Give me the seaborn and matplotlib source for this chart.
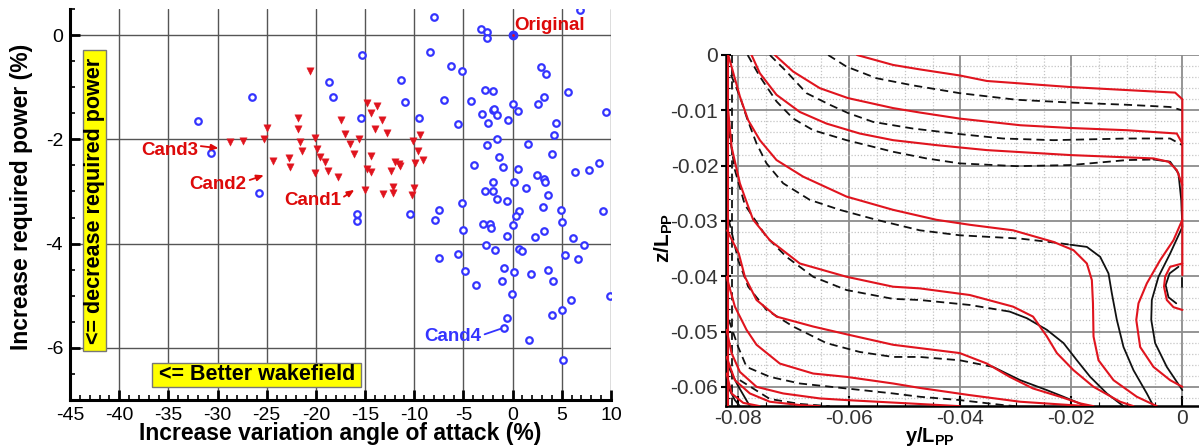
import matplotlib
matplotlib.use("Agg")
import matplotlib.pyplot as plt
from matplotlib.ticker import MultipleLocator, FuncFormatter
from matplotlib.patches import Rectangle
import pandas as pd
import seaborn as sns

# ---------------- design exploration (left panel) ----------------
# change of angle-of-attack variation (%) , change of required power (%)
explored = [
    (-31.99, -1.65), (-26.50, -1.18), (-30.67, -2.27), (-25.83, -3.03), (-15.33, -0.38),
    (-18.62, -0.90), (-18.27, -1.19), (-15.43, -1.60), (-11.33, -0.86), (-10.92, -1.29),
    (-15.83, -3.43), (-15.83, -3.56), (-10.42, -3.43), (-7.95, 0.34), (-3.23, 0.11),
    (-2.56, 0.05), (-2.56, -0.06), (6.86, 0.48), (-8.38, -0.33), (-6.28, -0.60),
    (-5.10, -0.69), (-6.93, -1.24), (-4.22, -1.26), (-2.79, -1.06), (-2.01, -1.08),
    (2.90, -0.62), (3.40, -0.75), (5.67, -1.09), (3.20, -1.19), (2.62, -1.33),
    (9.50, -1.48), (0.02, -1.32), (0.59, -1.45), (-2.01, -1.43), (-1.85, -1.42),
    (-3.13, -1.51), (-1.54, -1.54), (-0.43, -1.63), (-2.49, -1.69), (-5.54, -1.71),
    (-9.47, -1.59), (4.42, -1.69), (4.25, -1.91), (1.61, -2.08), (-2.56, -2.11),
    (-1.54, -1.99), (-1.34, -2.34), (3.98, -2.28), (-3.91, -2.50), (-0.93, -2.53),
    (0.59, -2.57), (2.46, -2.68), (3.20, -2.76), (3.30, -2.81), (6.38, -2.62),
    (7.77, -2.59), (8.79, -2.46), (-2.01, -2.81), (0.18, -2.81), (-2.79, -3.00),
    (-2.01, -3.00), (1.34, -2.94), (3.58, -3.07), (-1.61, -3.14), (-0.59, -3.18),
    (-5.16, -3.23), (-7.44, -3.35), (-7.88, -3.54), (0.69, -3.38), (0.36, -3.47),
    (3.13, -3.30), (4.90, -3.35), (9.23, -3.38), (5.00, -3.59), (-5.06, -3.73),
    (-3.03, -3.63), (-2.29, -3.62), (-2.22, -3.70), (0.08, -3.64), (3.20, -3.75),
    (-0.59, -3.86), (2.26, -3.87), (6.18, -3.89), (7.30, -4.02), (-2.69, -4.02),
    (-1.78, -4.13), (0.69, -4.11), (0.93, -4.14), (-7.44, -4.27), (-5.57, -4.19),
    (5.34, -4.22), (6.69, -4.30), (-4.83, -4.53), (-0.83, -4.46), (0.18, -4.55),
    (1.85, -4.59), (3.58, -4.51), (4.15, -4.71), (-1.04, -4.71), (-3.74, -4.79),
    (-0.08, -4.97), (9.91, -5.00), (5.95, -5.09), (4.01, -5.37), (5.00, -5.28),
    (-0.59, -5.42), (-0.89, -5.61), (1.68, -5.84), (5.10, -6.23),
]
selected = [
    (-20.58, -0.69), (-21.77, -1.59), (-21.77, -1.80), (-24.98, -1.78), (-28.71, -2.06),
    (-27.46, -2.03), (-25.32, -2.00), (-21.60, -2.05), (-21.42, -2.22), (-20.14, -1.98),
    (-19.87, -2.18), (-19.56, -2.34), (-19.09, -2.44), (-18.72, -2.60), (-17.77, -2.72),
    (-20.07, -2.65), (-22.78, -2.35), (-22.61, -2.54), (-24.37, -2.42), (-17.43, -1.62),
    (-17.09, -1.90), (-16.58, -2.08), (-16.11, -2.29), (-15.57, -1.99), (-14.82, -1.31),
    (-13.74, -1.37), (-14.41, -1.49), (-13.29, -1.62), (-13.97, -1.80), (-12.78, -1.87),
    (-14.45, -2.32), (-14.82, -2.57), (-14.38, -2.62), (-12.35, -2.60), (-11.94, -2.43),
    (-11.60, -2.48), (-11.43, -2.51), (-12.18, -2.91), (-12.18, -3.03), (-13.13, -3.05),
    (-15.02, -2.97), (-10.08, -2.03), (-9.40, -1.92), (-9.67, -2.22), (-9.13, -2.39),
    (-9.91, -2.46), (-9.98, -2.93), (-10.24, -3.06),
]
original = (0.0, 0.0)
cand_labels = ["Cand1", "Cand2", "Cand3", "Cand4"]
cand_points = [(-15.02, -2.97), (-24.37, -2.42), (-28.71, -2.06), (-0.89, -5.61)]

# ---------------- wake contours (right panel), (y/Lpp, z/Lpp) ----------------
red_1 = [(-0.0586, 0.0), (-0.0521, -0.0018), (-0.0473, -0.0026), (-0.0401, -0.0037), (-0.0352, -0.0047),
         (-0.0201, -0.0058), (-0.0052, -0.0066), (-0.0013, -0.0068), (0.0, -0.0080), (0.0, -0.0398)]
red_2 = [(-0.0734, 0.0), (-0.0701, -0.0030), (-0.0653, -0.0060), (-0.0602, -0.0078), (-0.0521, -0.0096),
         (-0.0473, -0.0104), (-0.0401, -0.0115), (-0.0292, -0.0127), (-0.0201, -0.0132), (-0.0100, -0.0136),
         (-0.0010, -0.0142), (0.0, -0.0160)]
red_3 = [(-0.0776, 0.0), (-0.0761, -0.0033), (-0.0731, -0.0072), (-0.0689, -0.0103), (-0.0641, -0.0124),
         (-0.0581, -0.0142), (-0.0521, -0.0154), (-0.0443, -0.0163), (-0.0352, -0.0172), (-0.0201, -0.0181),
         (-0.0052, -0.0187), (-0.0025, -0.0193), (-0.0010, -0.0208), (0.0, -0.0235)]
red_4 = [(-0.0818, 0.0), (-0.0812, -0.0021), (-0.0797, -0.0075), (-0.0782, -0.0118), (-0.0761, -0.0154),
         (-0.0731, -0.0190), (-0.0683, -0.0220), (-0.0605, -0.0256), (-0.0521, -0.0280), (-0.0443, -0.0298),
         (-0.0383, -0.0307), (-0.0305, -0.0317), (-0.0232, -0.0338), (-0.0196, -0.0353), (-0.0172, -0.0377),
         (-0.0163, -0.0407), (-0.0161, -0.0449), (-0.0160, -0.0509), (-0.0151, -0.0552), (-0.0124, -0.0588),
         (-0.0082, -0.0618), (-0.0046, -0.0635)]
red_5 = [(-0.0818, -0.0100), (-0.0812, -0.0166), (-0.0797, -0.0232), (-0.0782, -0.0274), (-0.0773, -0.0298),
         (-0.0743, -0.0335), (-0.0689, -0.0377), (-0.0605, -0.0401), (-0.0521, -0.0419), (-0.0473, -0.0422),
         (-0.0383, -0.0434), (-0.0305, -0.0455), (-0.0269, -0.0473), (-0.0244, -0.0509), (-0.0226, -0.0539),
         (-0.0196, -0.0570), (-0.0160, -0.0600), (-0.0112, -0.0627), (-0.0088, -0.0635)]
red_6 = [(-0.0820, -0.0317), (-0.0799, -0.0359), (-0.0788, -0.0401), (-0.0767, -0.0443), (-0.0731, -0.0473),
         (-0.0665, -0.0491), (-0.0605, -0.0505), (-0.0521, -0.0524), (-0.0473, -0.0530), (-0.0401, -0.0539),
         (-0.0352, -0.0558), (-0.0311, -0.0582), (-0.0269, -0.0603), (-0.0220, -0.0618), (-0.0184, -0.0630),
         (-0.0160, -0.0635)]
red_7 = [(-0.0821, -0.0401), (-0.0806, -0.0455), (-0.0785, -0.0497), (-0.0767, -0.0524), (-0.0725, -0.0558),
         (-0.0665, -0.0576), (-0.0605, -0.0582), (-0.0521, -0.0594), (-0.0473, -0.0602), (-0.0383, -0.0615),
         (-0.0292, -0.0627), (-0.0202, -0.0633), (-0.0166, -0.0635)]
red_8 = [(-0.0821, -0.0497), (-0.0812, -0.0539), (-0.0797, -0.0573), (-0.0767, -0.0600), (-0.0719, -0.0612),
         (-0.0653, -0.0621), (-0.0605, -0.0624), (-0.0437, -0.0633), (-0.0401, -0.0635)]
red_9 = [(-0.0821, -0.0546), (-0.0806, -0.0588), (-0.0779, -0.0612), (-0.0743, -0.0627), (-0.0689, -0.0633),
         (-0.0653, -0.0635)]
red_10 = [(-0.0821, -0.0576), (-0.0812, -0.0612), (-0.0791, -0.0629), (-0.0761, -0.0635)]
red_edge = [(-0.0819, 0.0), (-0.0819, -0.0635)]
red_lobe = [(0.0, -0.0298), (-0.0016, -0.0335), (-0.0040, -0.0371), (-0.0064, -0.0413), (-0.0079, -0.0449),
            (-0.0083, -0.0479), (-0.0076, -0.0528), (-0.0052, -0.0564), (-0.0022, -0.0588), (0.0, -0.0600)]
red_core = [(0.0, -0.0377), (-0.0022, -0.0383), (-0.0031, -0.0401), (-0.0033, -0.0419), (-0.0028, -0.0443),
            (-0.0016, -0.0456), (0.0, -0.0461)]

black_1_dash = [(-0.0638, 0.0), (-0.0605, -0.0021), (-0.0551, -0.0042), (-0.0485, -0.0055), (-0.0401, -0.0069),
                (-0.0298, -0.0081), (-0.0201, -0.0086), (-0.0100, -0.0090), (-0.0022, -0.0094), (0.0, -0.0100)]
black_2_dash = [(-0.0743, 0.0), (-0.0713, -0.0030), (-0.0677, -0.0069), (-0.0635, -0.0090), (-0.0602, -0.0105),
                (-0.0557, -0.0121), (-0.0485, -0.0133), (-0.0401, -0.0143), (-0.0323, -0.0151), (-0.0232, -0.0154),
                (-0.0100, -0.0151), (-0.0022, -0.0151), (0.0, -0.0163)]
black_3_dash = [(-0.0783, 0.0), (-0.0761, -0.0039), (-0.0749, -0.0057), (-0.0731, -0.0084), (-0.0701, -0.0115),
                (-0.0665, -0.0136), (-0.0605, -0.0154), (-0.0521, -0.0175), (-0.0461, -0.0187), (-0.0401, -0.0196),
                (-0.0298, -0.0201), (-0.0201, -0.0199), (-0.0100, -0.0190), (-0.0052, -0.0189)]
black_3_solid = [(-0.0052, -0.0189), (-0.0022, -0.0193), (-0.0007, -0.0214), (-0.0002, -0.0262), (0.0, -0.0311),
                 (-0.0022, -0.0359), (-0.0043, -0.0401), (-0.0055, -0.0443), (-0.0056, -0.0479), (-0.0049, -0.0521),
                 (-0.0028, -0.0564), (0.0, -0.0606)]
black_4_dash = [(-0.0813, -0.0036), (-0.0797, -0.0075), (-0.0784, -0.0115), (-0.0767, -0.0160), (-0.0749, -0.0196),
                (-0.0719, -0.0232), (-0.0671, -0.0262), (-0.0617, -0.0280), (-0.0551, -0.0298), (-0.0473, -0.0317),
                (-0.0401, -0.0326), (-0.0292, -0.0332), (-0.0232, -0.0339), (-0.0202, -0.0343)]
black_4_solid = [(-0.0202, -0.0343), (-0.0172, -0.0347), (-0.0148, -0.0365), (-0.0133, -0.0395), (-0.0127, -0.0431),
                 (-0.0118, -0.0479), (-0.0106, -0.0528), (-0.0088, -0.0570), (-0.0064, -0.0612), (-0.0052, -0.0635)]
black_5_dash = [(-0.0817, -0.0136), (-0.0806, -0.0208), (-0.0788, -0.0271), (-0.0749, -0.0329), (-0.0713, -0.0365),
                (-0.0665, -0.0401), (-0.0605, -0.0425), (-0.0521, -0.0441), (-0.0473, -0.0443), (-0.0383, -0.0452),
                (-0.0311, -0.0464)]
black_5_solid = [(-0.0311, -0.0464), (-0.0280, -0.0476), (-0.0244, -0.0497), (-0.0214, -0.0521), (-0.0190, -0.0552),
                 (-0.0166, -0.0582), (-0.0136, -0.0612), (-0.0106, -0.0635)]
black_6_dash = [(-0.0817, -0.0298), (-0.0800, -0.0371), (-0.0782, -0.0419), (-0.0749, -0.0461), (-0.0701, -0.0491),
                (-0.0641, -0.0521), (-0.0581, -0.0537), (-0.0521, -0.0546), (-0.0473, -0.0546), (-0.0401, -0.0552),
                (-0.0341, -0.0564)]
black_6_solid = [(-0.0341, -0.0564), (-0.0292, -0.0588), (-0.0244, -0.0606), (-0.0214, -0.0618), (-0.0178, -0.0633)]
black_7_dash = [(-0.0817, -0.0479), (-0.0800, -0.0528), (-0.0785, -0.0564), (-0.0743, -0.0582), (-0.0689, -0.0594),
                (-0.0605, -0.0603), (-0.0521, -0.0612), (-0.0473, -0.0618), (-0.0401, -0.0624), (-0.0323, -0.0633),
                (-0.0301, -0.0635)]
black_8_dash = [(-0.0797, -0.0588), (-0.0743, -0.0622), (-0.0689, -0.0631), (-0.0635, -0.0635)]
black_edge_dash = [(-0.0812, 0.0), (-0.0812, -0.0635)]
black_core = [(-0.0007, -0.0383), (-0.0023, -0.0395), (-0.0030, -0.0416), (-0.0025, -0.0438), (-0.0011, -0.0449)]
black_wall = [(0.0, -0.0404), (0.0, -0.0419)]
black_corner_1 = [(-0.0819, -0.0561), (-0.0801, -0.0597), (-0.0779, -0.0635)]
black_corner_2 = [(-0.0820, -0.0597), (-0.0806, -0.0624), (-0.0797, -0.0635)]

red_curves = [red_1, red_2, red_3, red_4, red_5, red_6, red_7, red_8, red_9, red_10,
              red_edge, red_lobe, red_core]
black_dashed = [black_1_dash, black_2_dash, black_3_dash, black_4_dash, black_5_dash,
                black_6_dash, black_7_dash, black_8_dash, black_edge_dash]
black_solid = [black_3_solid, black_4_solid, black_5_solid, black_6_solid, black_core,
               black_wall, black_corner_1, black_corner_2]

# ---------------- styling ----------------
sns.set_theme(style="white")
plt.rcParams["font.family"] = ["Liberation Sans", "DejaVu Sans"]
plt.rcParams["axes.unicode_minus"] = False
plt.rcParams["mathtext.fontset"] = "custom"
plt.rcParams["mathtext.rm"] = "Liberation Sans"
plt.rcParams["mathtext.bf"] = "Liberation Sans:bold"

RED = "#e0141e"
BLUE = "#3434ff"
TXT_RED = "#dd0a0a"

W, H = 1199, 446
fig = plt.figure(figsize=(W / 100, H / 100), dpi=100)
ax1 = fig.add_axes([70 / W, 1 - 400 / H, (611 - 70) / W, (400 - 9) / H])
ax2 = fig.add_axes([726 / W, 1 - 406 / H, (W - 726) / W, (406 - 55) / H])

# ----- left panel -----
df_exp = pd.DataFrame(explored, columns=["dx", "dp"])
df_sel = pd.DataFrame(selected, columns=["dx", "dp"])
sns.scatterplot(data=df_exp, x="dx", y="dp", ax=ax1, marker="o", s=22,
                facecolor="white", edgecolor=BLUE, linewidth=1.6, zorder=3)
sns.scatterplot(data=df_sel, x="dx", y="dp", ax=ax1, marker="v", s=28,
                color=RED, edgecolor=RED, linewidth=0.3, zorder=3)
sns.scatterplot(x=[original[0]], y=[original[1]], ax=ax1, marker="o", s=34,
                color=BLUE, edgecolor=BLUE, linewidth=1.2, zorder=4)
sns.scatterplot(x=[original[0]], y=[original[1]], ax=ax1, marker="o", s=4,
                color=RED, edgecolor=RED, linewidth=0, zorder=5)

ax1.set_xlim(-45, 10)
ax1.set_ylim(-7, 0.5)
ax1.xaxis.set_major_locator(MultipleLocator(5))
ax1.xaxis.set_minor_locator(MultipleLocator(1))
ax1.yaxis.set_major_locator(MultipleLocator(2))
ax1.yaxis.set_minor_locator(MultipleLocator(0.5))
ax1.set_axisbelow(True)
ax1.grid(which="major", color="#555555", linewidth=1.0)
ax1.tick_params(which="both", direction="in", top=False, right=False,
                bottom=True, left=True, colors="black", labelsize=14)
ax1.tick_params(which="major", length=7, width=2, pad=5)
ax1.tick_params(which="minor", length=3.5, width=1.2)
for side in ("top", "right"):
    ax1.spines[side].set_visible(False)
for side in ("left", "bottom"):
    ax1.spines[side].set_color("black")
    ax1.spines[side].set_linewidth(2.2)
ax1.set_xlabel("Increase variation angle of attack (%)", fontsize=16.5, fontweight="bold",
               color="black", va="center")
ax1.set_ylabel("Increase required power (%)", fontsize=16.5, fontweight="bold", color="black")
ax1.xaxis.set_label_coords(0.5, -0.085)
ax1.yaxis.set_label_coords(-0.068, 0.52)

# hint boxes
ax1.add_patch(Rectangle((-43.65, -6.06), 2.34, 5.77, facecolor="#ffff00",
                        edgecolor="#777777", linewidth=1.0, zorder=4))
ax1.text(-42.48, -3.175, "<= decrease required power", rotation=90, ha="center", va="center",
         fontsize=15.5, fontweight="bold", color="black", zorder=5)
ax1.add_patch(Rectangle((-36.64, -6.743), 21.24, 0.457, facecolor="#ffff00",
                        edgecolor="#777777", linewidth=1.0, zorder=4))
ax1.text(-26.02, -6.515, "<= Better wakefield", ha="center", va="center",
         fontsize=15.5, fontweight="bold", color="black", zorder=5)

# candidate annotations
ax1.text(0.15, 0.19, "Original", color=TXT_RED, fontsize=13.5, fontweight="bold",
         ha="left", va="center", zorder=6)
cand_text = [(-20.35, -3.18), (-29.93, -2.86), (-34.9, -2.21), (-6.05, -5.79)]
cand_tip = [(-16.1, -2.97), (-25.3, -2.69), (-29.9, -2.17), (-1.15, -5.63)]
cand_col = [TXT_RED, TXT_RED, TXT_RED, BLUE]
for lab, (tx, ty), (hx, hy), c in zip(cand_labels, cand_text, cand_tip, cand_col):
    ax1.text(tx, ty, lab, color=c, fontsize=13.5, fontweight="bold", ha="center", va="center", zorder=6)
    style = "-" if lab == "Cand4" else "-|>,head_length=0.35,head_width=0.15"
    ax1.annotate("", xy=(hx, hy), xytext=(tx + 3.2, ty + (0.05 if lab == "Cand4" else 0.08)),
                 arrowprops=dict(arrowstyle=style, color=c, lw=1.3, shrinkA=0, shrinkB=0), zorder=6)

# ----- right panel -----
def draw_curve(pts, ax, **kw):
    d = pd.DataFrame(pts, columns=["y", "z"])
    sns.lineplot(data=d, x="y", y="z", ax=ax, sort=False, estimator=None, **kw)

for c in red_curves:
    draw_curve(c, ax2, color=RED, linewidth=1.5, zorder=4)
for c in black_dashed:
    draw_curve(c, ax2, color="#111111", linewidth=1.3, linestyle=(0, (4.5, 2.8)), zorder=3)
for c in black_solid:
    draw_curve(c, ax2, color="#111111", linewidth=1.3, zorder=3)

ax2.set_xlim(-0.0822, 0.0030)
ax2.set_ylim(-0.06347, 0.0)
ax2.xaxis.set_major_locator(MultipleLocator(0.02))
ax2.xaxis.set_minor_locator(MultipleLocator(0.005))
ax2.yaxis.set_major_locator(MultipleLocator(0.01))
ax2.yaxis.set_minor_locator(MultipleLocator(0.002))
fmt = FuncFormatter(lambda v, p: "0" if abs(v) < 1e-9 else f"{round(v, 4):g}")
ax2.xaxis.set_major_formatter(fmt)
ax2.yaxis.set_major_formatter(fmt)
ax2.set_axisbelow(True)
ax2.grid(which="major", color="#8c8c8c", linewidth=1.3)
ax2.grid(which="minor", color="#c4c4c4", linewidth=0.9, linestyle=(0, (1, 1.5)))
ax2.tick_params(which="both", top=False, right=False, bottom=True, left=True,
                colors="black", labelcolor="#333333", labelsize=15)
ax2.tick_params(axis="y", which="major", direction="inout", length=7, width=1.5, pad=2)
ax2.tick_params(axis="x", which="major", direction="in", length=7, width=1.5, pad=2)
ax2.tick_params(which="minor", direction="in", length=3, width=0.8)
for side in ("top", "right"):
    ax2.spines[side].set_visible(False)
for side in ("left", "bottom"):
    ax2.spines[side].set_color("black")
    ax2.spines[side].set_linewidth(1.8)
ax2.set_xlabel(r"$\mathbf{y/L_{PP}}$", fontsize=14.5, color="black")
ax2.set_ylabel(r"$\mathbf{z/L_{PP}}$", fontsize=15, color="black")
ax2.xaxis.set_label_coords(0.43, -0.054)
ax2.yaxis.set_label_coords(-0.108, 0.48)

fig.savefig("out.png", dpi=100)
